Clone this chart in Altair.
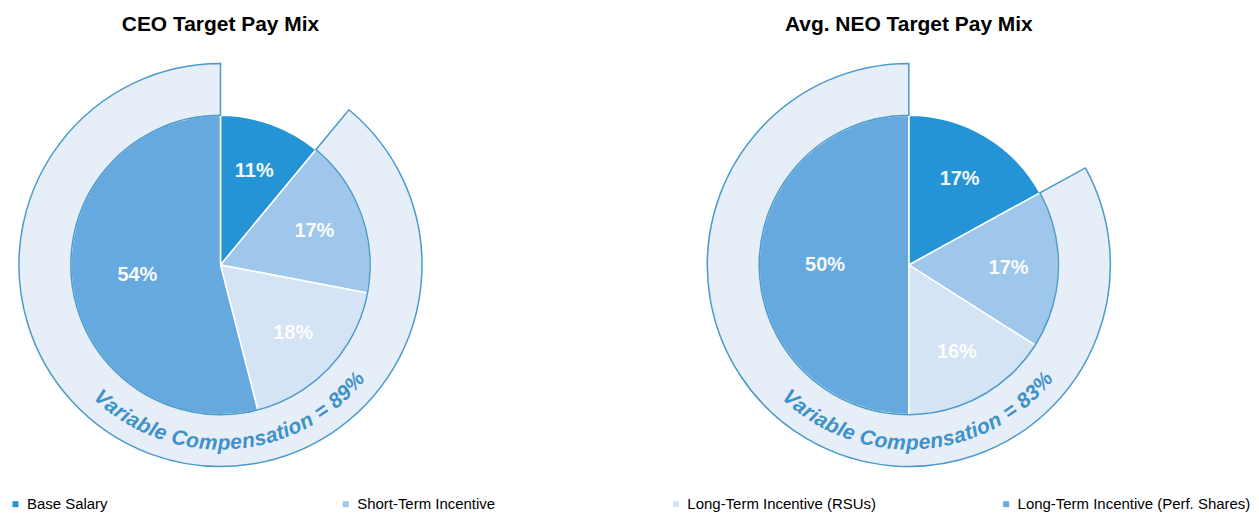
import math
import altair as alt
import pandas as pd

# ---------------- data ----------------
categories = [
    "Base Salary",
    "Short-Term Incentive",
    "Long-Term Incentive (RSUs)",
    "Long-Term Incentive (Perf. Shares)",
]
ceo_values = [11, 17, 18, 54]
neo_values = [17, 17, 16, 50]
panel_titles = ["CEO Target Pay Mix", "Avg. NEO Target Pay Mix"]
colors = ["#2594d7", "#9fc7ec", "#d4e4f5", "#65a9df"]

# ---------------- styling ----------------
FONT = "Liberation Sans"
PIE_R = 150
RING_R = 202
TEXT_R = 179
TEXT_SIZE = 21
TEXT_CENTER_DEG = 176
RING_FILL = "#e6eff8"
RING_STROKE = "#4b9acb"
CURVE_COLOR = "#3f91c9"

# Arial/Liberation Sans Bold advance widths (per 1000 em) for laying text on the arc
ADV = {" ": 278, "V": 667, "a": 556, "r": 389, "i": 278, "b": 611, "l": 278,
       "e": 556, "C": 722, "o": 611, "m": 889, "p": 611, "n": 611, "s": 556,
       "t": 333, "=": 584, "%": 889}


def curved_chars(label):
    widths = [ADV.get(c, 556) * TEXT_SIZE / 1000 for c in label]
    total = sum(widths)
    rows, cum = [], 0.0
    for i, (c, w) in enumerate(zip(label, widths)):
        mid = cum + w / 2
        cum += w
        if c == " ":
            continue
        deg = TEXT_CENTER_DEG + math.degrees((total / 2 - mid) / TEXT_R)
        rows.append({"ch": c, "pos": deg / 3.6, "rot": (deg - 180) % 360, "i": i})
    return pd.DataFrame(rows)


legend = alt.Legend(
    title=None, orient="none", legendX=0, legendY=443, direction="horizontal",
    columns=4, gridAlign="all", columnPadding=78, symbolType="square",
    symbolSize=36, symbolStrokeWidth=0, labelFontSize=15, labelFont=FONT,
    labelColor="#000000", labelOffset=4, labelLimit=400, padding=0,
)


def panel(title, values):
    df = pd.DataFrame({
        "category": categories,
        "value": values,
        "idx": list(range(len(values))),
        "label": [f"{v}%" for v in values],
    })
    ring_df = pd.DataFrame({"start": [values[0]], "end": [sum(values)]})
    curve_df = curved_chars(f"Variable Compensation = {sum(values) - values[0]}%")
    tscale = alt.Scale(domain=[0, sum(values)])

    pie = alt.Chart(df).mark_arc(radius=PIE_R, stroke="white", strokeWidth=1.5).encode(
        theta=alt.Theta("value:Q", stack=True, scale=tscale),
        color=alt.Color("category:N", scale=alt.Scale(domain=categories, range=colors),
                        legend=legend),
        order=alt.Order("idx:Q"),
    )
    ring = alt.Chart(ring_df).mark_arc(
        radius=RING_R, innerRadius=PIE_R, fill=RING_FILL, stroke=RING_STROKE, strokeWidth=1.5
    ).encode(
        theta=alt.Theta("start:Q", scale=tscale, stack=False),
        theta2="end:Q",
    )
    labels = alt.Chart(df).transform_window(
        cum="sum(value)", sort=[alt.SortField("idx")]
    ).transform_calculate(
        mid="datum.cum - datum.value / 2",
        lr="datum.value >= 40 ? 84 : 100",
    ).mark_text(
        fontSize=20, fontWeight="bold", color="white", font=FONT, opacity=0.95
    ).encode(
        theta=alt.Theta("mid:Q", scale=tscale, stack=False),
        radius=alt.Radius("lr:Q", scale=None),
        text="label:N",
    )
    curve = alt.Chart(curve_df).mark_text(
        radius=TEXT_R, fontSize=TEXT_SIZE, fontWeight="bold", fontStyle="italic",
        color=CURVE_COLOR, font=FONT, align="center", baseline="middle",
    ).encode(
        theta=alt.Theta("pos:Q", scale=tscale, stack=False),
        angle=alt.Angle("rot:Q", scale=None),
        text="ch:N",
        detail="i:N",
    )
    return alt.layer(pie, ring, labels, curve).properties(
        width=426, height=422,
        title=alt.Title(title, fontSize=21, font=FONT, fontWeight="bold",
                        anchor="middle", offset=20, color="#000000"),
    )


chart = alt.hconcat(
    panel(panel_titles[0], ceo_values),
    panel(panel_titles[1], neo_values),
    spacing=264,
).properties(
    padding={"left": 0, "top": 5, "right": 0, "bottom": 0}
).configure_view(stroke=None)

chart.save("out.html", embed_options={"renderer": "svg", "actions": False})
